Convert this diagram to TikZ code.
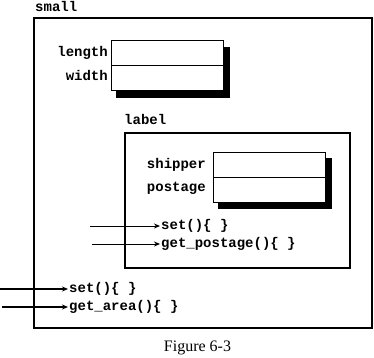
\documentclass[tikz,border=0pt]{standalone}
\usepackage{fontspec}
\setmainfont{Liberation Serif}
\setmonofont{Liberation Mono}
\usetikzlibrary{arrows.meta}
\tikzset{
  code/.style={font=\ttfamily\bfseries\fontsize{14}{14}\selectfont, inner sep=0pt, text height=9pt, text depth=2pt},
  frame/.style={draw, line width=1.6pt},
  cell/.style={draw, fill=white, line width=1pt, minimum width=112pt, minimum height=25pt, inner sep=0pt, anchor=north west},
  shadowbox/.style={fill=black, minimum width=114pt, minimum height=51pt, inner sep=0pt, anchor=north west},
  callarrow/.style={-{Stealth[length=6pt,width=5pt]}, line width=1pt},
  callarrowthick/.style={-{Stealth[length=6pt,width=5pt]}, line width=1.8pt}
}
\begin{document}
\begin{tikzpicture}[x=1pt,y=-1pt]
\useasboundingbox (0,0) rectangle (374,357);
% outer object "small"
\node[code, anchor=base west] (smallname) at (35,11.5) {small};
\draw[frame] (34,18) rectangle (372,328);
\node[shadowbox] (shA) at (116,47) {};
\node[cell] (length) at (111,40) {};
\node[cell, anchor=north west] (width) at (111,65) {};
\node[code, anchor=east] (lenlbl) at (108,53) {length};
\node[code, anchor=east] (widlbl) at (108,77) {width};
% inner object "label"
\node[code, anchor=west] (labelname) at (124,121) {label};
\draw[frame] (125,133) rectangle (350,268);
\node[shadowbox] (shB) at (218,158) {};
\node[cell] (shipper) at (213,152) {};
\node[cell] (postage) at (213,177) {};
\node[code, anchor=east] (shiplbl) at (206,165) {shipper};
\node[code, anchor=east] (postlbl) at (206,188) {postage};
% inner methods
\node[code, anchor=west] (iset) at (161,226) {set()\{ \}};
\node[code, anchor=west] (igp) at (161,244) {get\_postage()\{ \}};
\coordinate (iseta) at (90,226);
\coordinate (igpa) at (92,244);
\draw[callarrow] (iseta) -- ([xshift=-1pt]iset.west);
\draw[callarrow] (igpa) -- ([xshift=-1pt]igp.west);
% outer methods
\node[code, anchor=west] (oset) at (69,289) {set()\{ \}};
\node[code, anchor=west] (oga) at (69,307) {get\_area()\{ \}};
\coordinate (oseta) at (0,289);
\coordinate (ogaa) at (2,307);
\draw[callarrowthick] (oseta) -- ([xshift=-1pt]oset.west);
\draw[callarrowthick] (ogaa) -- ([xshift=-1pt]oga.west);
% caption
\node[font=\fontsize{16}{16}\selectfont, inner sep=0pt] (caption) at (197.5,348) {Figure 6-3};
\end{tikzpicture}
\end{document}
